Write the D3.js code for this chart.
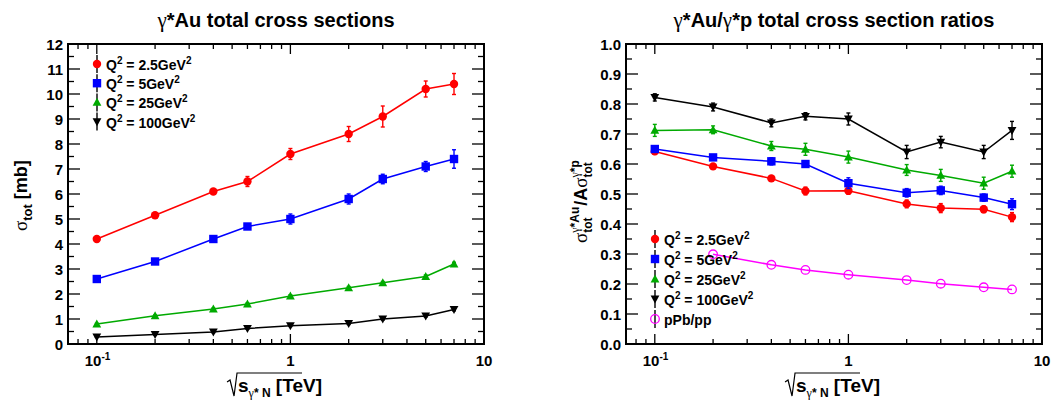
<!DOCTYPE html>
<html>
<head>
<meta charset="utf-8">
<script src="https://d3js.org/d3.v7.min.js"></script>
<style>
  body { margin: 0; background: #fff; }
  svg { display: block; font-family: "Liberation Sans", Arial, sans-serif; font-weight: bold; }
  .greek { font-family: "Liberation Serif", "DejaVu Serif", serif; font-weight: normal; }
</style>
</head>
<body>
<svg id="chart" width="1058" height="401"></svg>
<script>
// energies sqrt(s) in TeV
const energies = [0.1, 0.2, 0.4, 0.6, 1, 2, 3, 5, 7];
const q2Labels = ['2.5', '5', '25', '100'];
const colors = ['#ff0000', '#0000ff', '#00aa00', '#000000'];
const shapes = ['circle', 'square', 'triUp', 'triDown'];

// left panel: gamma*Au total cross sections [mb]
const xsec25 = [4.2, 5.15, 6.1, 6.5, 7.6, 8.4, 9.1, 10.2, 10.4];
const xsec25Err = [0.06, 0.08, 0.08, 0.2, 0.22, 0.3, 0.42, 0.32, 0.42];
const xsec5 = [2.6, 3.3, 4.2, 4.7, 5.0, 5.8, 6.6, 7.1, 7.4];
const xsec5Err = [0.05, 0.06, 0.08, 0.1, 0.2, 0.2, 0.19, 0.2, 0.37];
const xsec25b = [0.8, 1.13, 1.4, 1.6, 1.92, 2.25, 2.45, 2.7, 3.2];
const xsec25bErr = [0.03, 0.03, 0.04, 0.04, 0.05, 0.05, 0.05, 0.06, 0.07];
const xsec100 = [0.28, 0.38, 0.48, 0.62, 0.73, 0.82, 1.0, 1.12, 1.38];
const xsec100Err = [0.02, 0.02, 0.03, 0.03, 0.03, 0.04, 0.04, 0.04, 0.05];

// right panel: ratios sigma(gamma*Au) / (A sigma(gamma*p))
const ratio25 = [0.642, 0.592, 0.552, 0.51, 0.511, 0.467, 0.453, 0.449, 0.423];
const ratio25Err = [0.01, 0.006, 0.006, 0.013, 0.012, 0.013, 0.015, 0.011, 0.015];
const ratio5 = [0.65, 0.622, 0.609, 0.6, 0.536, 0.504, 0.512, 0.488, 0.466];
const ratio5Err = [0.01, 0.008, 0.012, 0.01, 0.018, 0.014, 0.014, 0.012, 0.018];
const ratio25b = [0.712, 0.714, 0.66, 0.649, 0.623, 0.58, 0.562, 0.536, 0.576];
const ratio25bErr = [0.02, 0.013, 0.015, 0.02, 0.02, 0.018, 0.02, 0.02, 0.02];
const ratio100 = [0.822, 0.79, 0.737, 0.759, 0.75, 0.64, 0.673, 0.64, 0.712];
const ratio100Err = [0.012, 0.013, 0.013, 0.012, 0.02, 0.022, 0.019, 0.022, 0.03];
const pPbEnergies = [0.2, 0.4, 0.6, 1, 2, 3, 5, 7];
const pPbRatio = [0.299, 0.264, 0.247, 0.231, 0.213, 0.201, 0.189, 0.182];

const leftTicks = d3.range(0, 13, 1);
const rightTicks = d3.range(0, 1.01, 0.1);

const svg = d3.select('#chart');

function marker(g, shape, cx, cy, color, open) {
  const s = 4.2;
  if (shape === 'circle') {
    g.append('circle').attr('cx', cx).attr('cy', cy).attr('r', open ? 4.3 : s)
      .attr('fill', open ? 'none' : color).attr('stroke', color).attr('stroke-width', open ? 1.3 : 0);
  } else if (shape === 'square') {
    g.append('rect').attr('x', cx - s).attr('y', cy - s).attr('width', 2 * s).attr('height', 2 * s).attr('fill', color);
  } else if (shape === 'triUp') {
    g.append('path').attr('d', `M${cx},${cy - 4.6}L${cx + 4.4},${cy + 3.4}L${cx - 4.4},${cy + 3.4}Z`).attr('fill', color);
  } else {
    g.append('path').attr('d', `M${cx},${cy + 4.6}L${cx + 4.4},${cy - 3.4}L${cx - 4.4},${cy - 3.4}Z`).attr('fill', color);
  }
}

function panel(opts) {
  const { left, right, top, bottom, yMax, yTicks, yMinorStep, fmt } = opts;
  const g = svg.append('g');
  const x = d3.scaleLog().domain([0.071, 10]).range([left, right]);
  const y = d3.scaleLinear().domain([0, yMax]).range([bottom, top]);

  // x ticks (log), both bottom and top
  const minor = [];
  [0.01, 0.1, 1].forEach(d => { for (let k = 2; k <= 9; k++) minor.push(d * k); });
  const xMinor = minor.filter(v => v > 0.071 && v < 10);
  const xMajor = [0.1, 1];
  const tg = g.append('g').attr('stroke', '#000').attr('stroke-width', 1.3);
  xMinor.concat(xMajor).forEach(v => {
    const len = xMajor.includes(v) ? 10 : 5;
    tg.append('line').attr('x1', x(v)).attr('x2', x(v)).attr('y1', bottom).attr('y2', bottom - len);
    tg.append('line').attr('x1', x(v)).attr('x2', x(v)).attr('y1', top).attr('y2', top + len);
  });
  // y ticks left and right
  for (let v = 0; v <= yMax + 1e-9; v += yMinorStep) {
    const isMajor = Math.abs(v / (yMinorStep * 2) - Math.round(v / (yMinorStep * 2))) < 1e-6;
    const len = isMajor ? 12 : 6;
    tg.append('line').attr('x1', left).attr('x2', left + len).attr('y1', y(v)).attr('y2', y(v));
    tg.append('line').attr('x1', right).attr('x2', right - len).attr('y1', y(v)).attr('y2', y(v));
  }
  g.append('rect').attr('x', left).attr('y', top).attr('width', right - left).attr('height', bottom - top)
    .attr('fill', 'none').attr('stroke', '#000').attr('stroke-width', 2);

  // y tick labels
  g.append('g').selectAll('text').data(yTicks).join('text')
    .attr('x', left - 5).attr('y', d => y(d) + 5.5).attr('text-anchor', 'end')
    .attr('font-size', 15).text(fmt);

  // x tick labels
  const xl = g.append('g').attr('font-size', 15);
  const t1 = xl.append('text').attr('x', x(0.1) - 12).attr('y', bottom + 22);
  t1.append('tspan').text('10');
  t1.append('tspan').attr('dy', -6).attr('font-size', 10).text('-1');
  xl.append('text').attr('x', x(1)).attr('y', bottom + 22).attr('text-anchor', 'middle').text('1');
  xl.append('text').attr('x', x(10)).attr('y', bottom + 22).attr('text-anchor', 'middle').text('10');

  // x title
  const cx = (left + right) / 2;
  const xt = g.append('g');
  const tt = xt.append('text').attr('y', bottom + 48).attr('font-size', 19);
  tt.append('tspan').text('s');
  tt.append('tspan').attr('dy', 5).attr('font-size', 12).attr('class', 'greek').text('γ');
  tt.append('tspan').attr('font-size', 12).text('* N');
  tt.append('tspan').attr('dy', -5).text(' [TeV]');
  const w = tt.node().getComputedTextLength();
  const x0 = cx - w / 2 + 4;
  tt.attr('x', x0);
  // radical sign
  xt.append('path')
    .attr('d', `M${x0 - 11},${bottom + 38}L${x0 - 8},${bottom + 36}L${x0 - 4},${bottom + 52}L${x0 - 1},${bottom + 29}L${x0 + 64},${bottom + 29}`)
    .attr('fill', 'none').attr('stroke', '#000').attr('stroke-width', 1.2);

  return { g, x, y };
}

function drawSeries(p, xs, ys, errs, color, shape, open) {
  const line = d3.line().x((d, i) => p.x(xs[i])).y(d => p.y(d));
  p.g.append('path').datum(ys).attr('d', line).attr('fill', 'none')
    .attr('stroke', color).attr('stroke-width', 1.5);
  const eg = p.g.append('g').attr('stroke', color).attr('stroke-width', 1.4);
  ys.forEach((v, i) => {
    if (!errs) return;
    const px = p.x(xs[i]);
    const y1 = p.y(v - errs[i]), y2 = p.y(v + errs[i]);
    eg.append('line').attr('x1', px).attr('x2', px).attr('y1', y1).attr('y2', y2);
    eg.append('line').attr('x1', px - 2).attr('x2', px + 2).attr('y1', y1).attr('y2', y1);
    eg.append('line').attr('x1', px - 2).attr('x2', px + 2).attr('y1', y2).attr('y2', y2);
  });
  ys.forEach((v, i) => marker(p.g, shape, p.x(xs[i]), p.y(v), color, open));
}

function legendEntry(g, lx, ly, shape, color, open, label, isQ) {
  g.append('line').attr('x1', lx).attr('x2', lx).attr('y1', ly - 9).attr('y2', ly + 9)
    .attr('stroke', '#000').attr('stroke-width', 1.4);
  marker(g, shape, lx, ly, color, open);
  const t = g.append('text').attr('x', lx + 9).attr('y', ly + 6).attr('font-size', 14);
  if (isQ) {
    t.append('tspan').text('Q');
    t.append('tspan').attr('dy', -6).attr('font-size', 10).text('2');
    t.append('tspan').attr('dy', 6).text(' = ' + label + 'GeV');
    t.append('tspan').attr('dy', -6).attr('font-size', 10).text('2');
  } else {
    t.text(label);
  }
}

function title(x, parts) {
  const t = svg.append('text').attr('y', 27).attr('font-size', 20);
  parts.forEach(p => {
    const s = t.append('tspan').text(p.t);
    if (p.greek) s.attr('class', 'greek').attr('font-size', 21);
  });
  const w = t.node().getComputedTextLength();
  t.attr('x', x - w / 2);
}

// ---- left panel
const L = panel({ left: 68, right: 484, top: 44, bottom: 344, yMax: 12, yTicks: leftTicks, yMinorStep: 0.5, fmt: d => d });
const leftSets = [[xsec25, xsec25Err], [xsec5, xsec5Err], [xsec25b, xsec25bErr], [xsec100, xsec100Err]];
leftSets.forEach((s, i) => drawSeries(L, energies, s[0], s[1], colors[i], shapes[i], false));
q2Labels.forEach((q, i) => legendEntry(L.g, 97, 64 + i * 19.2, shapes[i], colors[i], false, q, true));

title(276, [{ t: 'γ', greek: true }, { t: '*Au total cross sections' }]);

// left y title
const ly = svg.append('text').attr('transform', 'translate(27,231) rotate(-90)').attr('font-size', 18);
ly.append('tspan').attr('class', 'greek').attr('font-size', 19).text('σ');
ly.append('tspan').attr('dy', 5).attr('font-size', 13).text('tot');
ly.append('tspan').attr('dy', -5).text(' [mb]');

// ---- right panel
const R = panel({ left: 626, right: 1042, top: 44, bottom: 344, yMax: 1, yTicks: rightTicks, yMinorStep: 0.05, fmt: d => d.toFixed(1) });
const rightSets = [[ratio25, ratio25Err], [ratio5, ratio5Err], [ratio25b, ratio25bErr], [ratio100, ratio100Err]];
rightSets.forEach((s, i) => drawSeries(R, energies, s[0], s[1], colors[i], shapes[i], false));
drawSeries(R, pPbEnergies, pPbRatio, null, '#ff00ff', 'circle', true);
q2Labels.forEach((q, i) => legendEntry(R.g, 655, 239 + i * 20, shapes[i], colors[i], false, q, true));
legendEntry(R.g, 655, 319, 'circle', '#ff00ff', true, 'pPb/pp', false);

title(834, [{ t: 'γ', greek: true }, { t: '*Au/' }, { t: 'γ', greek: true }, { t: '*p total cross section ratios' }]);

// right y title, built piece by piece with stacked sub/superscripts
const ry = svg.append('g').attr('transform', 'translate(587,243) rotate(-90)');
let cur = 0;
function piece(txt, size, dy, greek) {
  const t = ry.append('text').attr('x', cur).attr('y', dy).attr('font-size', size).text(txt);
  if (greek) t.attr('class', 'greek');
  return t.node().getComputedTextLength();
}
function stacked(sup, sub) {
  const g1 = piece('γ', 12, -8, true);
  cur += g1;
  const a = piece(sup, 12, -8);
  cur -= g1;
  const b = piece(sub, 12, 5);
  cur += Math.max(a + g1, b) + 1;
}
cur += piece('σ', 19, 0, true);
stacked('*Au', 'tot');
cur += piece(' /A', 18, 0);
cur += piece('σ', 19, 0, true);
stacked('*p', 'tot');
</script>
</body>
</html>
